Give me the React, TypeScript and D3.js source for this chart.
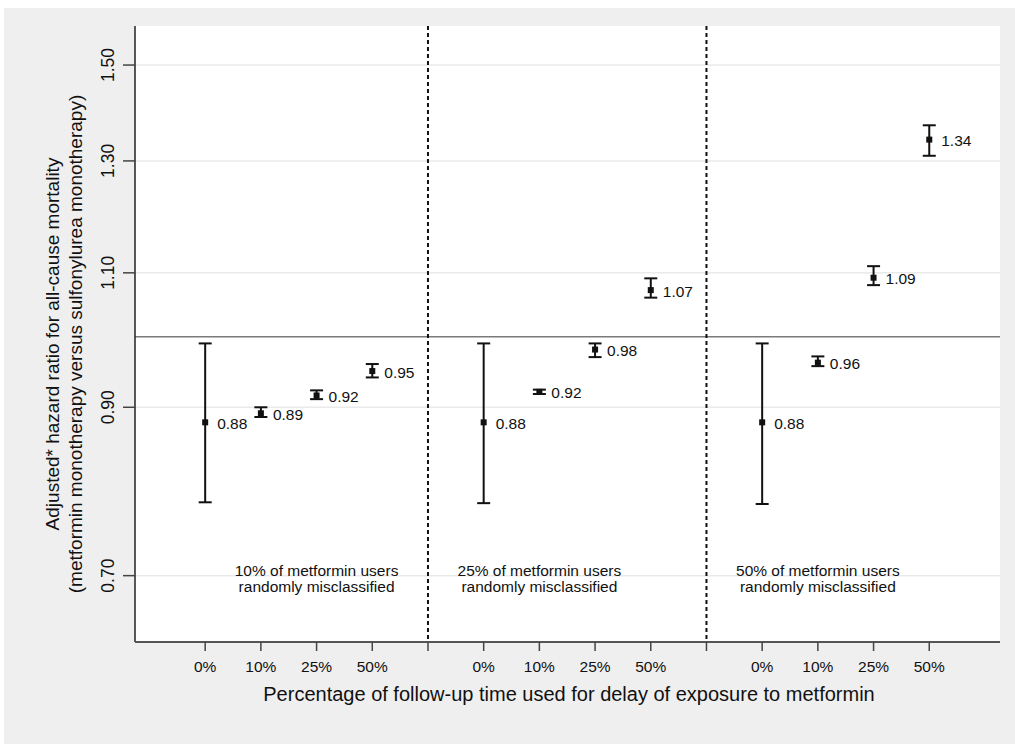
import React from 'react';
import * as d3 from 'd3';

// misclassification scenarios (one panel each)
const panelNotes = [
  ['10% of metformin users', 'randomly misclassified'],
  ['25% of metformin users', 'randomly misclassified'],
  ['50% of metformin users', 'randomly misclassified'],
];
const noteSlot = [2, 1, 1];
const delays = ['0%', '10%', '25%', '50%'];
// hazard ratios and 95% CI per panel, per delay
const hr = [
  [0.88, 0.892, 0.916, 0.95],
  [0.88, 0.921, 0.981, 1.072],
  [0.88, 0.962, 1.092, 1.342],
];
const lower = [
  [0.781, 0.887, 0.911, 0.941],
  [0.78, 0.918, 0.97, 1.06],
  [0.779, 0.957, 1.08, 1.31],
];
const upper = [
  [0.99, 0.9, 0.923, 0.96],
  [0.99, 0.924, 0.99, 1.091],
  [0.99, 0.971, 1.111, 1.371],
];
const yTicks = [0.7, 0.9, 1.1, 1.3, 1.5];

const App = () => {
  const width = 1015, height = 744;
  const left = 135, right = 1000, top = 26, bottom = 642;
  const font = 'Liberation Sans, Arial, Helvetica, sans-serif';

  const x = d3.scaleLinear().domain([-1.26, 14.27]).range([left, right]);
  const y = d3.scaleLog().domain([0.634, 1.59]).range([bottom, top]);
  const fmt = d3.format('.2f');

  const points = hr.flatMap((row, p) => row.map((v, g) => ({
    idx: p * 5 + g, v, lo: lower[p][g], hi: upper[p][g], label: delays[g]
  })));
  const separators = [4, 9];
  const cap = 6.5;

  return (
    <svg width={width} height={height} style={{ position: 'absolute', left: 0, top: 0 }} fontFamily={font}>
      <rect x={0} y={0} width={width} height={height} fill="#fff" />
      <rect x={4} y={8} width={width - 4} height={height - 8} fill="#efefef" />
      <rect x={left} y={top} width={right - left} height={bottom - top} fill="#fff" />

      {/* grid */}
      {yTicks.map(t => (
        <line key={t} x1={left} x2={right} y1={y(t)} y2={y(t)} stroke="#eaeaea" strokeWidth={1.5} />
      ))}
      <line x1={left} x2={right} y1={y(1)} y2={y(1)} stroke="#7a7a7a" strokeWidth={1.5} />

      {/* panel separators */}
      {separators.map(s => (
        <line key={s} x1={x(s)} x2={x(s)} y1={top} y2={bottom} stroke="#111" strokeWidth={2} strokeDasharray="4,3" />
      ))}

      {/* notes */}
      {panelNotes.map((lines, p) => (
        <text key={p} x={x(p * 5 + noteSlot[p])} y={576} textAnchor="middle" fontSize={15.5} fill="#111">
          {lines.map((l, i) => <tspan key={i} x={x(p * 5 + noteSlot[p])} dy={i === 0 ? 0 : 15.5}>{l}</tspan>)}
        </text>
      ))}

      {/* error bars */}
      {points.map(d => {
        const cx = x(d.idx);
        return (
          <g key={d.idx} stroke="#111" strokeWidth={2}>
            <line x1={cx} x2={cx} y1={y(d.hi)} y2={y(d.lo)} />
            <line x1={cx - cap} x2={cx + cap} y1={y(d.hi)} y2={y(d.hi)} />
            <line x1={cx - cap} x2={cx + cap} y1={y(d.lo)} y2={y(d.lo)} />
            <rect x={cx - 3} y={y(d.v) - 3} width={6} height={6} fill="#111" stroke="none" />
            <text x={cx + 12} y={y(d.v) + 6.5} fontSize={15.5} fill="#111" stroke="none">{fmt(d.v)}</text>
          </g>
        );
      })}

      {/* y axis */}
      <line x1={left} x2={left} y1={top} y2={bottom} stroke="#222" strokeWidth={1.5} />
      {yTicks.map(t => (
        <g key={t} transform={`translate(${left},${y(t)})`}>
          <line x1={-12} x2={0} stroke="#444" strokeWidth={1.5} />
          <text transform="rotate(-90)" x={0} y={-21} textAnchor="middle" fontSize={17.5} fill="#111">{fmt(t)}</text>
        </g>
      ))}
      <text transform={`translate(59,${(top + bottom) / 2 + 10}) rotate(-90)`} textAnchor="middle" fontSize={19} fill="#111">
        <tspan x={0} dy={0}>Adjusted* hazard ratio for all-cause mortality</tspan>
        <tspan x={0} dy={23}>(metformin monotherapy versus sulfonylurea monotherapy)</tspan>
      </text>

      {/* x axis */}
      <line x1={left} x2={right} y1={bottom} y2={bottom} stroke="#555" strokeWidth={2} />
      {[...points.map(d => d.idx), ...separators].map(i => (
        <line key={'t' + i} x1={x(i)} x2={x(i)} y1={bottom} y2={bottom + 9} stroke="#444" strokeWidth={1.5} />
      ))}
      {points.map(d => (
        <text key={'l' + d.idx} x={x(d.idx)} y={bottom + 30} textAnchor="middle" fontSize={15.5} fill="#111">{d.label}</text>
      ))}
      <text x={569} y={701} textAnchor="middle" fontSize={20} fill="#111">
        Percentage of follow-up time used for delay of exposure to metformin
      </text>
    </svg>
  );
};

export default App;
